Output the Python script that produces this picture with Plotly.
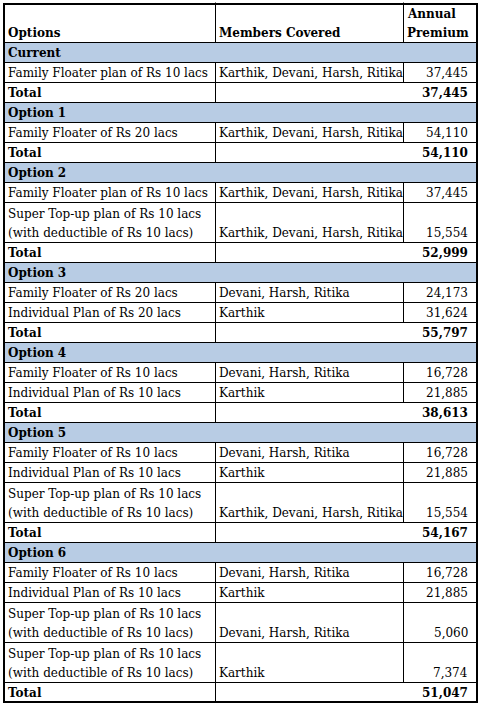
import plotly.graph_objects as go

# ---------------- data ----------------
header_labels = ["Options", "Members Covered", "Annual<br>Premium"]
section_names = ["Current", "Option 1", "Option 2", "Option 3", "Option 4", "Option 5", "Option 6"]
plan_section = [0, 1, 2, 2, 3, 3, 4, 4, 5, 5, 5, 6, 6, 6, 6]
plan_names = [
    "Family Floater plan of Rs 10 lacs",
    "Family Floater of Rs 20 lacs",
    "Family Floater plan of Rs 10 lacs",
    "Super Top-up plan of Rs 10 lacs<br>(with deductible of Rs 10 lacs)",
    "Family Floater of Rs 20 lacs",
    "Individual Plan of Rs 20 lacs",
    "Family Floater of Rs 10 lacs",
    "Individual Plan of Rs 10 lacs",
    "Family Floater of Rs 10 lacs",
    "Individual Plan of Rs 10 lacs",
    "Super Top-up plan of Rs 10 lacs<br>(with deductible of Rs 10 lacs)",
    "Family Floater of Rs 10 lacs",
    "Individual Plan of Rs 10 lacs",
    "Super Top-up plan of Rs 10 lacs<br>(with deductible of Rs 10 lacs)",
    "Super Top-up plan of Rs 10 lacs<br>(with deductible of Rs 10 lacs)",
]
plan_members = [
    "Karthik, Devani, Harsh, Ritika",
    "Karthik, Devani, Harsh, Ritika",
    "Karthik, Devani, Harsh, Ritika",
    "Karthik, Devani, Harsh, Ritika",
    "Devani, Harsh, Ritika",
    "Karthik",
    "Devani, Harsh, Ritika",
    "Karthik",
    "Devani, Harsh, Ritika",
    "Karthik",
    "Karthik, Devani, Harsh, Ritika",
    "Devani, Harsh, Ritika",
    "Karthik",
    "Devani, Harsh, Ritika",
    "Karthik",
]
plan_premiums = [37445, 54110, 37445, 15554, 24173, 31624, 16728, 21885,
                 16728, 21885, 15554, 16728, 21885, 5060, 7374]
section_totals = [37445, 54110, 52999, 55797, 38613, 54167, 51047]

# ---------------- layout constants ----------------
W, H = 481, 703
UNIT = 20
LINE = 19
TOP = 2.5
COL_X = [4, 215.5, 403.5, 477]
BLUE = "#B8CCE4"
FONT = "DejaVu Serif"
FS = 12

# build rows
rows = [("header", header_labels, 2)]
for s, name in enumerate(section_names):
    rows.append(("section", [name], 1))
    for i, sec in enumerate(plan_section):
        if sec == s:
            n = plan_names[i].count("<br>") + 1
            rows.append(("item", [plan_names[i], plan_members[i], f"{plan_premiums[i]:,}"], n))
    rows.append(("total", ["Total", "", f"{section_totals[s]:,}"], 1))

fills, lines, annotations = [], [], []


def ann(x, y, text, xanchor, bold=False):
    parts = text.split("<br>")
    n = len(parts)
    for k, part in enumerate(parts):
        annotations.append(dict(
            x=x, y=y - (n - 1 - k) * LINE, xref="x", yref="y",
            text=f"<b>{part}</b>" if bold else part,
            showarrow=False, xanchor=xanchor, yanchor="bottom",
            align=xanchor, font=dict(family=FONT, size=FS, color="black"),
        ))


y = TOP
n_rows = len(rows)
for r, (kind, cells, units) in enumerate(rows):
    y0, y1 = y, y + units * UNIT
    if kind == "section":
        fills.append(dict(type="rect", xref="x", yref="y", x0=COL_X[0], x1=COL_X[3],
                          y0=y0, y1=y1, fillcolor=BLUE, line=dict(width=0), layer="below"))
    if r < n_rows - 1:
        lines.append(dict(type="line", xref="x", yref="y", x0=COL_X[0], x1=COL_X[3],
                          y0=y1, y1=y1, line=dict(color="black", width=1)))
    if kind in ("header", "item", "total"):
        lines.append(dict(type="line", xref="x", yref="y", x0=COL_X[1], x1=COL_X[1],
                          y0=y0, y1=y1, line=dict(color="black", width=1)))
    if kind in ("header", "item"):
        lines.append(dict(type="line", xref="x", yref="y", x0=COL_X[2], x1=COL_X[2],
                          y0=y0, y1=y1, line=dict(color="black", width=1)))
    ty = y1 - 0.5
    if kind == "header":
        ann(COL_X[0] + 1.5, ty, cells[0], "left", True)
        ann(COL_X[1] + 1.5, ty, cells[1], "left", True)
        ann(COL_X[2] + 1.5, ty, cells[2], "left", True)
    elif kind == "section":
        ann(COL_X[0] + 1.5, ty, cells[0], "left", True)
    elif kind == "item":
        ann(COL_X[0] + 1.5, ty, cells[0], "left")
        ann(COL_X[1] + 1.5, ty, cells[1], "left")
        ann(COL_X[3] - 7, ty, cells[2], "right")
    else:
        ann(COL_X[0] + 1.5, ty, cells[0], "left", True)
        ann(COL_X[3] - 7, ty, cells[2], "right", True)
    y = y1

border = dict(type="rect", xref="x", yref="y", x0=COL_X[0], x1=COL_X[3], y0=4, y1=702,
              line=dict(color="black", width=2), fillcolor="rgba(0,0,0,0)")

fig = go.Figure()
fig.update_layout(
    width=W, height=H, margin=dict(l=0, r=0, t=0, b=0),
    paper_bgcolor="white", plot_bgcolor="white", showlegend=False,
    xaxis=dict(range=[0, W], visible=False, fixedrange=True),
    yaxis=dict(range=[H, 0], visible=False, fixedrange=True),
    shapes=fills + lines + [border],
    annotations=annotations,
)
fig.write_html(
    "out.html",
    config={"displayModeBar": False},
    post_script="document.body.style.margin='0';document.body.style.overflow='hidden';",
)
